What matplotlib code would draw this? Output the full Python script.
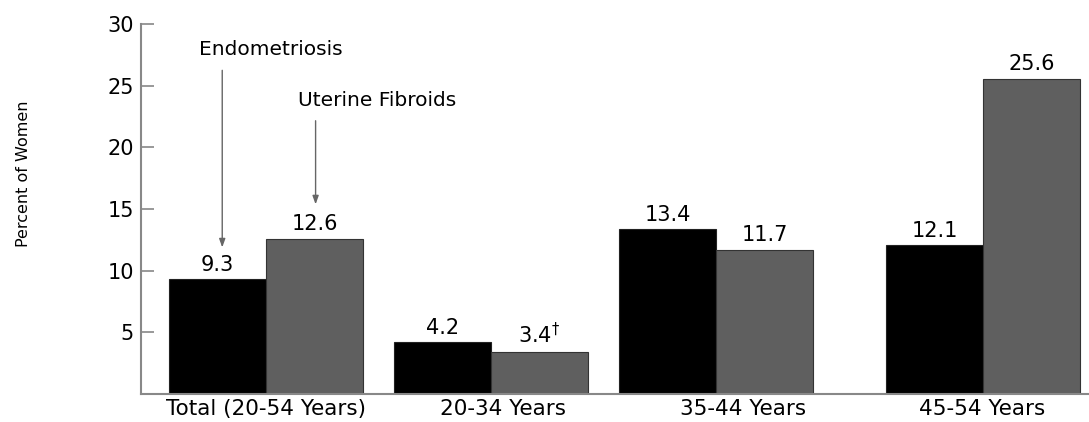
import matplotlib.pyplot as plt
import numpy as np

plt.rcParams['font.family'] = ['DejaVu Sans']

# data
groups = ['Total (20-54 Years)', '20-34 Years', '35-44 Years', '45-54 Years']
endometriosis = [9.3, 4.2, 13.4, 12.1]
fibroids = [12.6, 3.4, 11.7, 25.6]
endo_labels = ['9.3', '4.2', '13.4', '12.1']
fib_labels = ['12.6', r'3.4$^{\dagger}$', '11.7', '25.6']

# layout (group centres are not evenly spaced in the original)
pos = np.array([0, 1, 2, 3.187])
label_pos = [0, 1.053, 2.12, 3.182]
w = 0.43

fig = plt.figure(figsize=(10.89, 4.22), dpi=100)
ax = fig.add_axes([0.1295, 0.0675, 0.8705, 0.8745])

b1 = ax.bar(pos - w / 2, endometriosis, w, color='black', edgecolor='#222222', linewidth=0.8)
b2 = ax.bar(pos + w / 2, fibroids, w, color='#5f5f5f', edgecolor='#333333', linewidth=0.8)
ax.bar_label(b1, labels=endo_labels, padding=3, fontsize=15)
ax.bar_label(b2, labels=fib_labels, padding=3, fontsize=15)

ax.set_xlim(-0.556, 3.658)
ax.set_ylim(0, 30)
ax.set_yticks([5, 10, 15, 20, 25, 30])
ax.set_xticks(label_pos)
ax.set_xticklabels(groups)
ax.tick_params(axis='x', length=0, pad=4, labelsize=15.5)
ax.tick_params(axis='y', direction='in', length=9, width=1.2, color='#888888', pad=5, labelsize=15)

for s in ['top', 'right']:
    ax.spines[s].set_visible(False)
for s in ['left', 'bottom']:
    ax.spines[s].set_color('#888888')
    ax.spines[s].set_linewidth(1.5)

fig.text(24 / 1089, 1 - 174 / 422, 'Percent of Women', rotation=90, ha='center', va='center', fontsize=11.5)

# callouts
arrow = dict(arrowstyle='-|>,head_length=0.5,head_width=0.18', color='#666666', lw=1)
ax.text(0.022, 28.0, 'Endometriosis', ha='center', va='center', fontsize=14.5)
ax.annotate('', xy=(pos[0] - w / 2 + 0.02, endometriosis[0] + 2.35), xytext=(pos[0] - w / 2 + 0.02, 26.5),
            arrowprops=arrow)
ax.text(0.493, 23.86, 'Uterine Fibroids', ha='center', va='center', fontsize=14.5)
ax.annotate('', xy=(pos[0] + w / 2 + 0.005, fibroids[0] + 2.55), xytext=(pos[0] + w / 2 + 0.005, 22.4),
            arrowprops=arrow)

fig.savefig('out.png', dpi=100)
